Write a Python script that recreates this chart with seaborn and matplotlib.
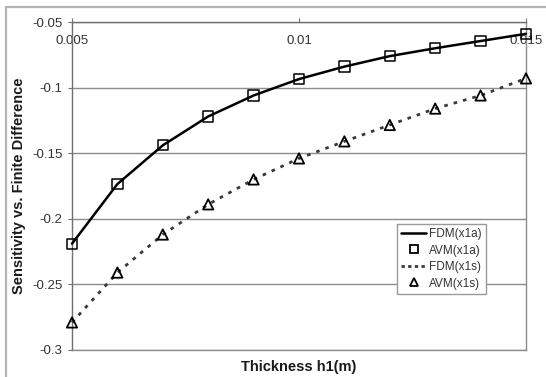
import matplotlib
matplotlib.use("Agg")
import matplotlib.pyplot as plt
import seaborn as sns
import pandas as pd
from matplotlib.patches import Rectangle
from matplotlib.lines import Line2D

thickness = [0.005, 0.006, 0.007, 0.008, 0.009, 0.010, 0.011, 0.012, 0.013, 0.014, 0.015]
fdm_x1a = [-0.219, -0.1735, -0.144, -0.122, -0.106, -0.0935, -0.084, -0.076, -0.070, -0.0645, -0.059]
avm_x1a = [-0.219, -0.1735, -0.144, -0.122, -0.106, -0.0935, -0.084, -0.076, -0.070, -0.0645, -0.059]
fdm_x1s = [-0.279, -0.241, -0.212, -0.189, -0.170, -0.154, -0.141, -0.1285, -0.116, -0.106, -0.093]
avm_x1s = [-0.279, -0.241, -0.212, -0.189, -0.170, -0.154, -0.141, -0.1285, -0.116, -0.106, -0.093]
x_ticks = [0.005, 0.01, 0.015]
x_ticklabels = ["0.005", "0.01", "0.015"]
y_ticks = [-0.3, -0.25, -0.2, -0.15, -0.1, -0.05]
y_ticklabels = ["-0.3", "-0.25", "-0.2", "-0.15", "-0.1", "-0.05"]
legend_labels = ["FDM(x1a)", "AVM(x1a)", "FDM(x1s)", "AVM(x1s)"]

sns.set_theme(style="white")
plt.rcParams["font.family"] = ["Liberation Sans", "DejaVu Sans"]

W, H = 546, 377
fig = plt.figure(figsize=(W / 100, H / 100), dpi=100)
fig.patch.set_facecolor("white")

# outer chart frame (cropped at right/bottom)
fig.patches.append(Rectangle((6 / W, -0.05), 1.2, 1 - 7 / H + 0.05, transform=fig.transFigure,
                             fill=False, edgecolor="#b4b4b4", linewidth=1.6, zorder=0))

ax = fig.add_axes([72 / W, 1 - 350 / H, (526 - 72) / W, (350 - 22) / H])
ax.set_facecolor("white")

df = pd.DataFrame({"t": thickness, "fa": fdm_x1a, "aa": avm_x1a, "fs": fdm_x1s, "as": avm_x1s})

sns.lineplot(data=df, x="t", y="fa", ax=ax, color="black", linewidth=1.8, zorder=3, clip_on=False)
sns.lineplot(data=df, x="t", y="fs", ax=ax, color="#3a3a3a", linewidth=2.0, zorder=3, clip_on=False)
ax.lines[-1].set_dashes((1.3, 2.2))
ax.lines[-1].set_dash_capstyle("butt")
sns.scatterplot(data=df, x="t", y="aa", ax=ax, marker="s", s=55, facecolor="none",
                edgecolor="black", linewidth=1.1, zorder=4, clip_on=False)
sns.scatterplot(data=df, x="t", y="as", ax=ax, marker="^", s=55, facecolor="none",
                edgecolor="black", linewidth=1.3, zorder=4, clip_on=False)

ax.set_xlim(0.005, 0.015)
ax.set_ylim(-0.3, -0.05)

ax.set_yticks(y_ticks)
ax.set_yticklabels(y_ticklabels)
ax.set_xticks(x_ticks)
ax.set_xticklabels(x_ticklabels)

ax.yaxis.grid(True, color="#8c8c8c", linewidth=1.0)
ax.xaxis.grid(False)
ax.set_axisbelow(True)

for side in ["left", "right", "top", "bottom"]:
    ax.spines[side].set_visible(True)
    ax.spines[side].set_color("#8c8c8c")
    ax.spines[side].set_linewidth(1.0)
ax.spines["left"].set_color("#707070")
ax.spines["top"].set_color("#707070")

ax.tick_params(axis="x", top=True, bottom=False, labeltop=True, labelbottom=False,
               direction="out", length=3, width=0.8, color="#707070", pad=-21,
               labelsize=9.5, labelcolor="#333333")
ax.tick_params(axis="y", left=True, direction="out", length=3, width=0.8, color="#707070",
               pad=4, labelsize=9.5, labelcolor="#333333")

ax.set_xlabel("Thickness h1(m)", fontsize=10.5, fontweight="bold", color="#1a1a1a", labelpad=7)
ax.xaxis.set_label_position("bottom")
ax.set_ylabel("Sensitivity vs. Finite Difference", fontsize=10.5, fontweight="bold",
              color="#1a1a1a", labelpad=4)

handles = [
    Line2D([], [], color="black", linewidth=1.8),
    Line2D([], [], color="black", marker="s", markersize=6, markerfacecolor="none",
           markeredgewidth=1.3, linestyle="none"),
    Line2D([], [], color="#3a3a3a", linewidth=2.0, dashes=(1.2, 1.2)),
    Line2D([], [], color="black", marker="^", markersize=6, markerfacecolor="none",
           markeredgewidth=1.3, linestyle="none"),
]
leg = ax.legend(handles, legend_labels, loc="upper left",
                bbox_to_anchor=(397 / W, 1 - 224 / H), bbox_transform=fig.transFigure,
                borderaxespad=0, fontsize=8.5, frameon=True, fancybox=False, framealpha=1,
                edgecolor="#9a9a9a", handlelength=2.1, handletextpad=0.3, labelspacing=0.38,
                borderpad=0.35)
leg.get_frame().set_linewidth(1.0)
for t in leg.get_texts():
    t.set_color("#333333")

fig.savefig("out.png", dpi=100, facecolor="white")
